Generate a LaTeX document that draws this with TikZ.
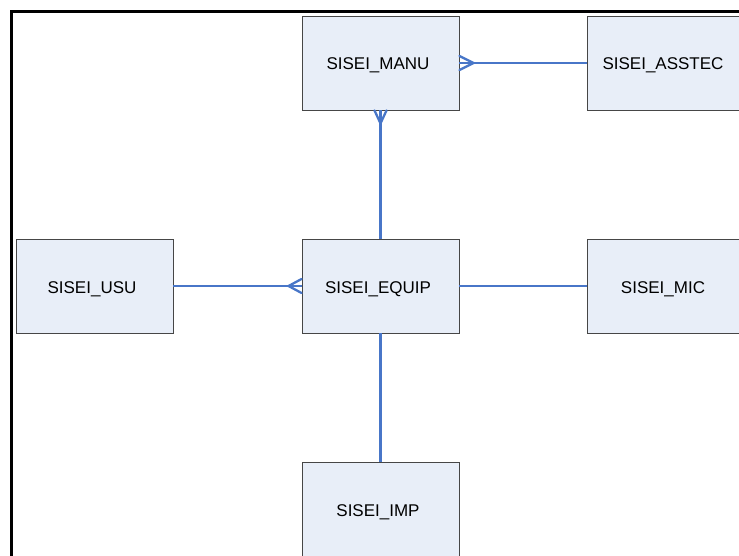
\documentclass[tikz,border=0pt]{standalone}
\usepackage{fontspec}
\setmainfont{Liberation Sans}
\usetikzlibrary{calc}
\definecolor{boxfill}{RGB}{232,238,248}
\definecolor{boxline}{RGB}{70,70,70}
\definecolor{linkblue}{RGB}{72,118,200}
\tikzset{
  entity/.style={draw=boxline, line width=0.9pt, fill=boxfill,
    minimum width=157pt, minimum height=94pt, inner sep=0pt,
    font=\fontsize{17}{19}\selectfont},
  link/.style={draw=linkblue, line width=2.3pt},
  fork/.style={draw=linkblue, line width=2.3pt, line cap=round}
}
\newcommand{\entitytext}[1]{\raisebox{-7pt}[0pt][0pt]{\makebox[0pt]{#1\hspace*{5pt}}}}
\begin{document}
\begin{tikzpicture}[x=1pt,y=-1pt]
  \useasboundingbox (0,0) rectangle (739,556);
  \clip (0,0) rectangle (739,556);
  % outer frame
  \draw[line width=3pt] (11.5,600) -- (11.5,11.5) -- (800,11.5);

  % entities
  \node[entity] (manu)   at (380.5,63)  {\entitytext{SISEI\_MANU}};
  \node[entity] (asstec) at (665.5,63)  {\entitytext{SISEI\_ASSTEC}};
  \node[entity] (usu)    at (94.5,286)  {\entitytext{SISEI\_USU}};
  \node[entity] (equip)  at (380.5,286) {\entitytext{SISEI\_EQUIP}};
  \node[entity] (mic)    at (665.5,286) {\entitytext{SISEI\_MIC}};
  \node[entity] (imp)    at (380.5,509) {\entitytext{SISEI\_IMP}};

  % relationships
  \draw[link] (asstec.west) -- (manu.east);
  \draw[link] (equip.north) -- (manu.south);
  \draw[link] (usu.east) -- (equip.west);
  \draw[link] (equip.east) -- (mic.west);
  \draw[link] (equip.south) -- (imp.north);

  % crow's feet (many side)
  \draw[fork] ($(manu.east)+(0,-7)$) -- ($(manu.east)+(14,0)$) -- ($(manu.east)+(0,7)$);
  \draw[fork] ($(manu.south)+(-6,0)$) -- ($(manu.south)+(0,13)$) -- ($(manu.south)+(6,0)$);
  \draw[fork] ($(equip.west)+(0,-7)$) -- ($(equip.west)+(-13,0)$) -- ($(equip.west)+(0,7)$);
\end{tikzpicture}
\end{document}
